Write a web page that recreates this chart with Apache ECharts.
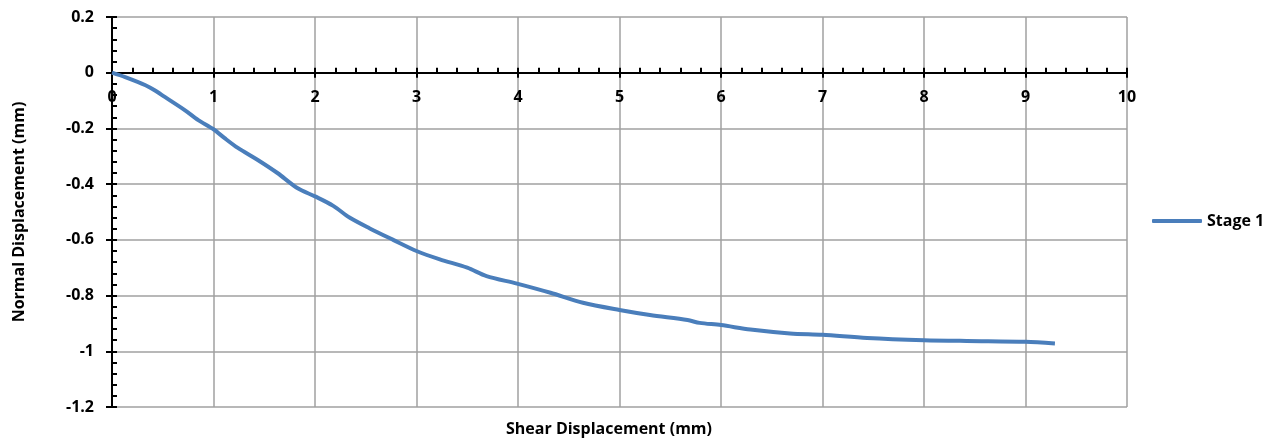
<!DOCTYPE html>
<html lang="en">
<head>
  <meta charset="UTF-8">
  <title>Stage 1</title>
  <style>
    #container, html, body {
      margin: 0;
      padding: 0;
      height: 100%;
      width: 100%;
      background: #fff;
    }
  </style>
</head>
<body>
  <div id="container"></div>
</body>
<script src="https://cdn.jsdelivr.net/npm/echarts@6/dist/echarts.min.js"></script>
<script>
  // shear displacement (mm) vs normal displacement (mm)
  var shear = [0, 0.13, 0.33, 0.42, 0.52, 0.72, 0.85, 1.0, 1.11, 1.24, 1.44, 1.63, 1.83, 2.0,
    2.18, 2.34, 2.54, 2.77, 3.0, 3.23, 3.5, 3.69, 3.99, 4.32, 4.64, 5.0, 5.3, 5.67, 5.79,
    6.0, 6.29, 6.68, 7.0, 7.44, 8.0, 8.42, 9.0, 9.29]
  var normal = [0, -0.016, -0.045, -0.063, -0.087, -0.135, -0.17, -0.203, -0.235, -0.27, -0.314, -0.36, -0.415, -0.444,
    -0.478, -0.52, -0.559, -0.6, -0.64, -0.67, -0.7, -0.73, -0.757, -0.79, -0.826, -0.852, -0.87, -0.888, -0.898,
    -0.906, -0.922, -0.936, -0.941, -0.952, -0.96, -0.963, -0.966, -0.972]
  var seriesName = 'Stage 1'
  var xTitle = 'Shear Displacement (mm)'
  var yTitle = 'Normal Displacement (mm)'
  var xMin = 0, xMax = 10, xStep = 1
  var yMin = -1.2, yMax = 0.2, yStep = 0.2

  var font = '"Open Sans", "Liberation Sans", sans-serif'
  var gridColor = '#a0a0a0'
  var black = { color: '#000', width: 2 }
  var labelText = { fontFamily: font, fontSize: 16, fontWeight: 'bold', color: '#000' }

  var gridTop = 17, gridBottom = 34
  var gridHeight = 441 - gridTop - gridBottom
  // pixel distance from top of the plot down to y = 0 (where the labels sit)
  var zeroOffset = gridHeight * (yMax - 0) / (yMax - yMin)

  var points = shear.map(function (x, i) { return [x, normal[i]] })

  var charts = echarts.init(document.querySelector('#container'))
  var option = {
    animation: false,
    title: {
      text: xTitle,
      left: 609,
      top: 421,
      padding: 0,
      textAlign: 'center',
      textStyle: labelText
    },
    legend: {
      data: [seriesName],
      left: 1152,
      top: 213,
      padding: 0,
      icon: 'roundRect',
      itemWidth: 50,
      itemHeight: 4,
      itemGap: 3,
      textStyle: labelText
    },
    grid: {
      left: 112,
      right: 146,
      top: gridTop,
      bottom: gridBottom,
      outerBoundsMode: 'none'
    },
    xAxis: [
      {
        // axis line on y = 0, ticks pointing up
        type: 'value',
        min: xMin,
        max: xMax,
        interval: xStep,
        axisLine: { onZero: true, lineStyle: black },
        axisTick: { show: true, inside: true, length: 5, lineStyle: black },
        minorTick: { show: true, splitNumber: 5, length: 5, lineStyle: black },
        axisLabel: { show: false },
        splitLine: { show: true, lineStyle: { color: gridColor, width: 1.5 } }
      },
      {
        // same scale, moved down to y = 0: major ticks pointing down + labels
        type: 'value',
        position: 'top',
        offset: -zeroOffset,
        min: xMin,
        max: xMax,
        interval: xStep,
        axisLine: { show: false, onZero: false },
        axisTick: { show: true, inside: true, length: 5, lineStyle: black },
        axisLabel: Object.assign({ inside: true, margin: 17 }, labelText),
        splitLine: { show: false }
      }
    ],
    yAxis: [
      {
        type: 'value',
        min: yMin,
        max: yMax,
        interval: yStep,
        name: yTitle,
        nameLocation: 'middle',
        nameGap: 85,
        nameTextStyle: labelText,
        axisLine: { onZero: false, lineStyle: black },
        axisTick: { show: true, inside: true, length: 5, lineStyle: black },
        minorTick: { show: true, splitNumber: 5, length: 5, lineStyle: black },
        axisLabel: Object.assign({ margin: 18 }, labelText),
        splitLine: { show: true, lineStyle: { color: gridColor, width: 1.5 } }
      },
      {
        type: 'value',
        position: 'left',
        min: yMin,
        max: yMax,
        interval: yStep,
        axisLine: { show: false, onZero: false },
        axisTick: { show: true, inside: false, length: 6, lineStyle: black },
        axisLabel: { show: false },
        splitLine: { show: false }
      }
    ],
    series: [
      {
        name: seriesName,
        type: 'line',
        data: points,
        smooth: 0.3,
        showSymbol: false,
        symbol: 'none',
        lineStyle: { color: '#4a7ebb', width: 4 },
        itemStyle: { color: '#4a7ebb' }
      }
    ]
  }
  charts.setOption(option)
  window.onresize = charts.resize
</script>
</html>
